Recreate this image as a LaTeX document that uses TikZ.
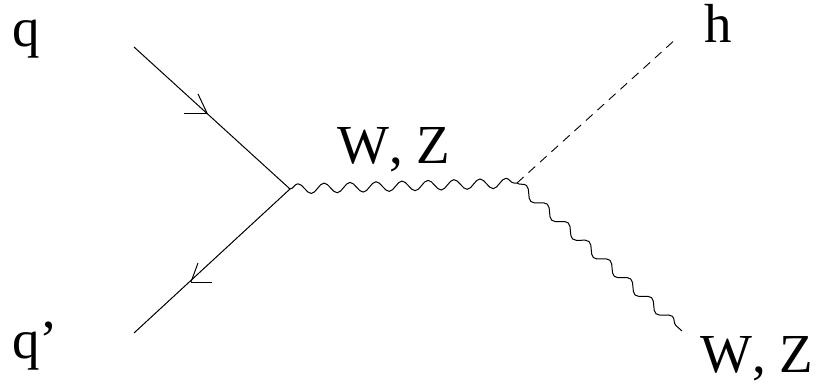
\documentclass[tikz,border=0pt]{standalone}
\usepackage{fontspec}
\setmainfont[Kerning=Off]{Liberation Serif}
\usetikzlibrary{decorations.pathmorphing}
\begin{document}
\begin{tikzpicture}[x=1pt,y=-1pt,
  lbl/.style={anchor=base west,inner sep=0pt,font=\fontsize{55}{64}\selectfont},
  fermion/.style={line width=1pt,black},
  boson/.style={line width=1pt,decorate,decoration={snake,segment length=#1,amplitude=5pt}},
  higgs/.style={line width=0.9pt,dash pattern=on 9pt off 6.5pt},
  barb/.style={line width=1pt}]
\useasboundingbox (0,0) rectangle (822,386);
% vertices
\coordinate (qin) at (134,47);
\coordinate (qbin) at (134,333);
\coordinate (v1) at (290,189);
\coordinate (v2) at (517,183);
\coordinate (hout) at (677,38);
\coordinate (wout) at (682,331);
% arrow tips
\coordinate (t1) at (207,113);
\coordinate (t2) at (191,282);
% labels
\node[lbl] (lq) at (12,46) {q};
\node[lbl] (lqb) at (12,358) {q'};
\node[lbl] (lh) at (704,42) {h};
\node[lbl] (lw1) at (337,163) {W, Z};
\node[lbl] (lw2) at (700,372) {W, Z};
% lines
\draw[fermion] (qin) -- (v1);
\draw[fermion] (v1) -- (qbin);
\draw[boson=26pt] (v1) -- (v2);
\draw[line width=1pt,decorate,decoration={snake,segment length=28pt,amplitude=4.5pt}] (v2) -- (wout);
\draw[higgs] (v2) -- (hout);
% arrowheads
\draw[barb] (t1) -- ++(-23,0);
\draw[barb] (t1) -- ++(-9,-19);
\draw[barb] (t2) -- ++(21,0);
\draw[barb] (t2) -- ++(7,-19);
\end{tikzpicture}
\end{document}
